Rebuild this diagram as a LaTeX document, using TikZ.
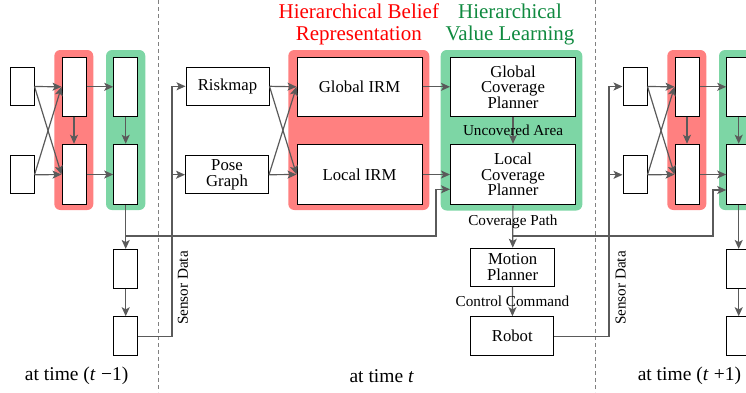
\documentclass[tikz,border=0pt]{standalone}
\usepackage{fontspec}
\setmainfont{Liberation Serif}
\usetikzlibrary{arrows.meta}
\definecolor{beliefbg}{RGB}{255,128,128}
\definecolor{valuebg}{RGB}{125,214,165}
\definecolor{belieftxt}{RGB}{255,0,0}
\definecolor{valuetxt}{RGB}{16,138,64}
\definecolor{linkgray}{RGB}{90,90,90}
\begin{document}
\begin{tikzpicture}[x=1pt,y=-1pt,
	box/.style={draw=black,line width=1pt,fill=white,inner sep=1pt,align=center,
		font=\fontsize{16.7}{15.5}\selectfont},
	cell/.style={box,minimum width=24pt},
	link/.style={draw=linkgray,line width=1.2pt,-{Stealth[length=9pt,width=8pt,inset=2.2pt]}},
	note/.style={font=\fontsize{15.2}{16}\selectfont,inner sep=0pt},
	title/.style={align=center,font=\fontsize{21}{22.3}\selectfont},
	stamp/.style={font=\fontsize{19.5}{20}\selectfont},
	sep/.style={draw=gray,line width=0.8pt,dash pattern=on 4pt off 3pt}]
	\useasboundingbox (0,0) rectangle (746,392);
	%背景
	\foreach \dx in {0,613}{
		\fill[beliefbg,rounded corners=6pt] (54.3+\dx,50) rectangle (93.3+\dx,210);
		\fill[valuebg,rounded corners=6pt] (106+\dx,50) rectangle (145.3+\dx,210);
	}
	\fill[beliefbg,rounded corners=6pt] (288.3,50) rectangle (429.3,210);
	\fill[valuebg,rounded corners=6pt] (440.7,50) rectangle (582.3,210.5);
	\draw[sep] (158.7,0) -- (158.7,392);
	\draw[sep] (595.7,0) -- (595.7,392);
	%前后时刻
	\foreach \p/\dx in {a/0,c/613}{
		\node[cell,minimum height=38pt] (\p-in1) at (22+\dx,86.5) {};
		\node[cell,minimum height=38pt] (\p-in2) at (22+\dx,174.8) {};
		\node[cell,minimum height=59pt] (\p-bel1) at (74+\dx,86.8) {};
		\node[cell,minimum height=60.5pt] (\p-bel2) at (74+\dx,174.5) {};
		\node[cell,minimum height=59pt] (\p-val1) at (125.7+\dx,86.8) {};
		\node[cell,minimum height=60.5pt] (\p-val2) at (125.7+\dx,174.5) {};
		\node[cell,minimum height=39.5pt] (\p-low1) at (125.7+\dx,269.2) {};
		\node[cell,minimum height=39pt] (\p-low2) at (125.7+\dx,336.2) {};
		\draw[link] (\p-in1.east) -- (\p-bel1.west);
		\draw[link] (\p-in1.east) -- (\p-bel2.west);
		\draw[link] (\p-in2.east) -- (\p-bel1.west);
		\draw[link] (\p-in2.east) -- (\p-bel2.west);
		\draw[link] (\p-bel1) -- (\p-bel2);
		\draw[link] (\p-bel1) -- (\p-val1);
		\draw[link] (\p-bel2) -- (\p-val2);
		\draw[link] (\p-val1) -- (\p-val2);
		\draw[link] (\p-val2) -- (\p-low1);
		\draw[link] (\p-low1) -- (\p-low2);
	}
	%当前时刻
	\node[box,minimum width=83pt,minimum height=38pt] (riskmap) at (227.5,86.3) {Riskmap};
	\node[box,minimum width=83pt,minimum height=38pt] (posegraph) at (227,174.7) {Pose\\Graph};
	\node[box,minimum width=125pt,minimum height=59pt] (globalirm) at (359.5,86.8) {Global IRM};
	\node[box,minimum width=125pt,minimum height=60.5pt] (localirm) at (359.5,174.5) {Local IRM};
	\node[box,minimum width=125pt,minimum height=59pt] (globalcp) at (513,86.8) {Global\\Coverage\\Planner};
	\node[box,minimum width=125pt,minimum height=60.5pt] (localcp) at (513,174.5) {Local\\Coverage\\Planner};
	\node[box,minimum width=84pt,minimum height=38pt] (motion) at (512.7,267.2) {Motion\\Planner};
	\node[box,minimum width=83pt,minimum height=39pt] (robot) at (512.3,336.2) {Robot};
	\node[title,text=belieftxt] (belieftitle) at (358.8,24.5) {Hierarchical Belief\\Representation};
	\node[title,text=valuetxt] (valuetitle) at (510,24.5) {Hierarchical\\Value Learning};
	%连线
	\draw[link] (riskmap.east) -- (globalirm.west);
	\draw[link] (riskmap.east) -- (localirm.west);
	\draw[link] (posegraph.east) -- (globalirm.west);
	\draw[link] (posegraph.east) -- (localirm.west);
	\draw[link] (globalirm) -- (globalcp);
	\draw[link] (localirm) -- (localcp);
	\draw[link] (globalcp) -- node[note]{Uncovered Area} (localcp);
	\draw[link] (localcp) -- node[note,pos=0.4]{Coverage Path} (motion);
	\draw[link] (motion) -- node[note]{Control Command} (robot);
	\coordinate (asplit) at (125.7,236);
	\coordinate (cpsplit) at (513,236);
	\draw[link] (asplit) -- (436,236) |- ([yshift=-14.8pt]localcp.west);
	\draw[link] (cpsplit) -- (713,236) |- ([yshift=-15.5pt]c-val2.west);
	\coordinate (feeda) at (172,336.2);
	\coordinate (feedc) at (609,336.2);
	\draw[link] (a-low2.east) -- (feeda) |- (riskmap.west);
	\draw[link] (feeda |- posegraph.west) -- (posegraph.west);
	\draw[link] (robot.east) -- (feedc) |- (c-in1.west);
	\draw[link] (feedc |- c-in2.west) -- (c-in2.west);
	\node[note,rotate=90] (sensora) at (183,288) {Sensor Data};
	\node[note,rotate=90] (sensorc) at (620.7,288) {Sensor Data};
	%时刻
	\node[stamp] (tprev) at (76.7,376) {at time (\textit{t}\;−1)};
	\node[stamp] (tnow) at (381.7,376) {at time \textit{t}};
	\node[stamp] (tnext) at (689.5,376) {at time (\textit{t}\;+1)};
\end{tikzpicture}
\end{document}
